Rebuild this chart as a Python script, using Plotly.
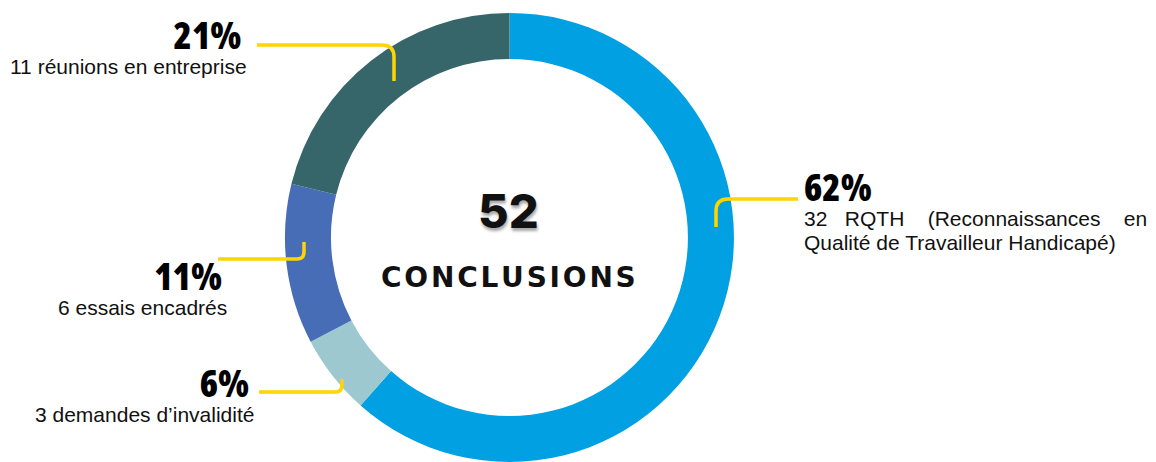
import plotly.graph_objects as go

# ---- data ----
categories = ["RQTH", "Demandes d'invalidité", "Essais encadrés", "Réunions en entreprise"]
counts = [32, 3, 6, 11]
colors = ["#00A0E3", "#9DC8D0", "#466DB5", "#366669"]
pct_labels = ["62%", "6%", "11%", "21%"]
desc_lines = [
    ["32&#160;&#160;&#160;RQTH&#160;&#160;&#160;&#160;(Reconnaissances&#160;&#160;&#160;&#160;en",
     "Qualité de Travailleur Handicapé)"],
    ["3 demandes d’invalidité"],
    ["6 essais encadrés"],
    ["11 réunions en entreprise"],
]
total_value = str(sum(counts))
total_label = "CONCLUSIONS"

W, H = 1156, 462
YELLOW = "#FFD500"

fig = go.Figure()
fig.add_trace(go.Pie(
    labels=categories,
    values=counts,
    marker=dict(colors=colors, line=dict(width=0)),
    hole=0.795,
    sort=False,
    direction="clockwise",
    rotation=0,
    textinfo="none",
    hoverinfo="label+value+percent",
    showlegend=False,
    domain=dict(x=[0.2407, 0.6407], y=[0.0, 0.9719]),
))

# label block placement: (x, y of block bottom, side)
label_pos = {
    0: (802, 255.5, "left"),
    1: (256, 428, "right"),
    2: (229, 320.5, "right"),
    3: (249, 80.5, "right"),
}
PCT_STYLE = "font-family:Open Sans;font-size:37px;font-weight:800;font-stretch:75%;fill:#000000"
DESC_STYLE = "font-size:21px"

annotations = []
for i in range(len(counts)):
    x, y, side = label_pos[i]
    head = f"<span style='{PCT_STYLE}'>{pct_labels[i]}</span>"
    if side == "right":
        head += "&#160;"
    body = "<br>".join(f"<span style='{DESC_STYLE}'>{ln}</span>" for ln in desc_lines[i])
    annotations.append(dict(
        x=x, y=y, xref="x", yref="y", text=head + "<br>" + body,
        showarrow=False, xanchor=side, yanchor="bottom", align=side,
        font=dict(family="Liberation Sans, Arial, sans-serif", size=19, color="#111111"),
    ))

annotations.append(dict(x=508, y=210, xref="x", yref="y", text=total_value, showarrow=False,
                        xanchor="center", yanchor="middle",
                        font=dict(family="Inter, Lato, sans-serif", size=47, color="#111111",
                                  weight=800, shadow="1px 3px 3px rgba(0,0,0,0.35)")))
spaced = "\u200a".join(total_label)
annotations.append(dict(x=508, y=277, xref="x", yref="y", text=spaced, showarrow=False,
                        xanchor="center", yanchor="middle",
                        font=dict(family="DejaVu Sans, sans-serif", size=28, color="#111111",
                                  weight=700)))

connectors = [
    "M 257 45 L 382 45 Q 394 45 394 57 L 394 81",
    "M 798 199 L 728 199 Q 716 199 716 211 L 716 227",
    "M 218 259 L 297 259 Q 304 259 304 252 L 304 242",
    "M 259 392 L 335 392 Q 342 392 342 385 L 342 379",
]
shapes = [dict(type="path", path=p, xref="x", yref="y",
               line=dict(color=YELLOW, width=3.5)) for p in connectors]

fig.update_layout(
    width=W, height=H,
    margin=dict(l=0, r=0, t=0, b=0),
    paper_bgcolor="white", plot_bgcolor="rgba(0,0,0,0)",
    xaxis=dict(range=[0, W], visible=False, fixedrange=True),
    yaxis=dict(range=[H, 0], visible=False, fixedrange=True),
    annotations=annotations,
    shapes=shapes,
    showlegend=False,
)

post = "document.body.style.margin='0px';"
fig.write_html("out.html", post_script=post, config={"displayModeBar": False})
